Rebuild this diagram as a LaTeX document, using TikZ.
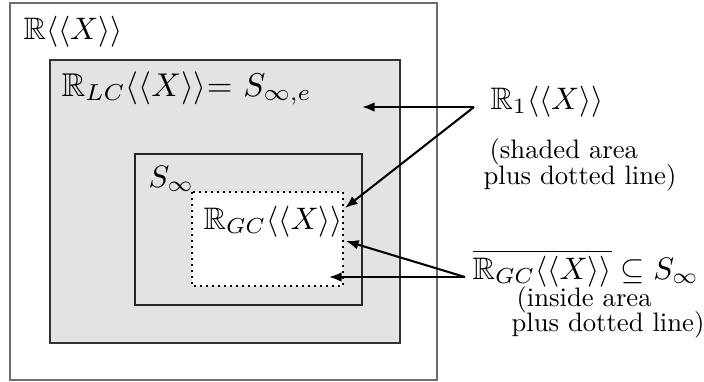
\documentclass[tikz,border=0pt]{standalone}
\usepackage{amssymb}
\usetikzlibrary{arrows.meta}
\definecolor{shade}{HTML}{E3E3E3}
\definecolor{outerline}{HTML}{6E6E6E}
\begin{document}
\begin{tikzpicture}[x=0.341pt,y=-0.341pt,
  lbl/.style={inner sep=0pt,anchor=base west,scale=1.06},
  txt/.style={inner sep=0pt,anchor=base west,scale=0.91},
  arr/.style={line width=0.7pt,-{Latex[length=4.3pt,width=3.3pt]}},
  boxline/.style={line width=0.4pt}]
\useasboundingbox (0,0) rectangle (704,381);
% boxes
\draw[boxline,draw=outerline] (10,3) rectangle (437,380);
\draw[boxline,draw=black!80,fill=shade] (50,60) rectangle (400,343);
\draw[boxline,draw=black!85,fill=shade] (135,154) rectangle (362,305);
\draw[line width=0.68pt,dash pattern=on 0.68pt off 1.37pt,fill=white] (192,192) rectangle (343,286);
% labels
\node[lbl] (rx) at (23,39) {$\mathbb{R}\langle\langle X\rangle\rangle$};
\node[lbl,scale=1.06] (rlc) at (61,96) {$\mathbb{R}_{LC}\langle\langle X\rangle\rangle$= $S_{\infty,e}$};
\node[lbl] (sinf) at (148,187) {$S_\infty$};
\node[lbl] (rgc) at (203,229) {$\mathbb{R}_{GC}\langle\langle X\rangle\rangle$};
\node[lbl] (r1) at (490,109) {$\mathbb{R}_1\langle\langle X\rangle\rangle$};
\node[txt] (t1) at (489,158) {(shaded area};
\node[txt] (t2) at (483,184) {plus dotted line)};
\node[lbl] (rgcb) at (472,279) {$\overline{\mathbb{R}_{GC}\langle\langle X\rangle\rangle}\subseteq S_\infty$};
\node[txt] (t3) at (516,306) {(inside area};
\node[txt] (t4) at (511,331) {plus dotted line)};
% arrow endpoints
\coordinate (a1) at (474,107);
\coordinate (a2) at (465,277);
\coordinate (p1) at (362,107);
\coordinate (p2) at (345,208);
\coordinate (p3) at (346,241);
\coordinate (p4) at (329,277);
\draw[arr] (a1) -- (p1);
\draw[arr] (a1) -- (p2);
\draw[arr] (a2) -- (p3);
\draw[arr] (a2) -- (p4);
\end{tikzpicture}
\end{document}
